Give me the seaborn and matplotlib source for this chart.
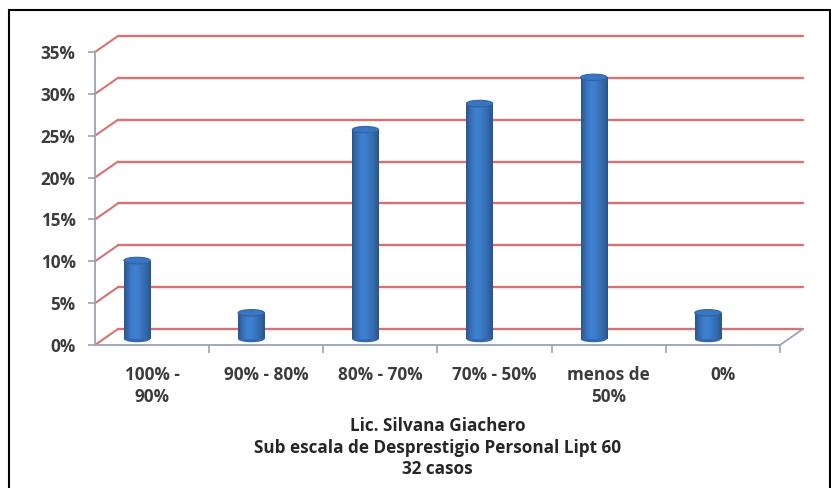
import numpy as np
import matplotlib
matplotlib.use("Agg")
import matplotlib.pyplot as plt
from matplotlib.transforms import ScaledTranslation, IdentityTransform
from matplotlib.patches import Ellipse, Rectangle
from matplotlib.lines import Line2D
import seaborn as sns
import pandas as pd

# Data: share of the 32 cases in each range
categories = ["100% -\n90%", "90% - 80%", "80% - 70%", "70% - 50%", "menos de\n50%", "0%"]
porcentajes = [9.375, 3.125, 25.0, 28.125, 31.25, 3.125]
y_ticks = [0, 5, 10, 15, 20, 25, 30, 35]
y_tick_labels = [f"{t}%" for t in y_ticks]
title_lines = ["Lic. Silvana Giachero",
               "Sub escala de Desprestigio Personal Lipt 60",
               "32 casos"]

sns.set_theme(style="white")
plt.rcParams["font.family"] = ["Open Sans", "DejaVu Sans"]

DPI = 100
W, H = 831, 488
fig = plt.figure(figsize=(W / DPI, H / DPI), dpi=DPI)
fig.patch.set_facecolor("white")

# front plane of the pseudo-3D plot (pixels)
x_left, x_right, y_zero, y_top = 95, 780, 345, 52
ax = fig.add_axes([x_left / W, (H - y_zero) / H,
                   (x_right - x_left) / W, (y_zero - y_top) / H])
ax.set_facecolor("none")

grid_red = "#d77272"
axis_gray = "#9aa4b6"
text_gray = "#3c3c3c"
bar_blue = "#3a77c2"
label_size = 12.3

df = pd.DataFrame({"rango": categories, "pct": porcentajes})
sns.barplot(data=df, x="rango", y="pct", color=bar_blue, width=0.23,
            ax=ax, zorder=3, saturation=1)

ax.set_xlim(-0.5, len(categories) - 0.5)
ax.set_ylim(0, 35)

# depth offsets (back wall / bar row), in pixels
back_dx, back_dy = 23, 16
bar_dx, bar_dy = -15, 6
back_off = ScaledTranslation(back_dx / DPI, back_dy / DPI, fig.dpi_scale_trans)
bar_off = ScaledTranslation(bar_dx / DPI, bar_dy / DPI, fig.dpi_scale_trans)

# back wall gridlines and left wall diagonals
trans_back = ax.get_yaxis_transform() + back_off
for t in y_ticks:
    ax.add_line(Line2D([0, 1], [t, t], transform=trans_back, color=grid_red,
                       lw=1.7, zorder=1, clip_on=False))
    px, py = ax.transData.transform((-0.5, t))
    ax.add_line(Line2D([px, px + back_dx], [py, py + back_dy],
                       transform=IdentityTransform(), color=grid_red,
                       lw=1.5, zorder=1, clip_on=False))

# right edge of the floor
px, py = ax.transData.transform((len(categories) - 0.5, 0))
ax.add_line(Line2D([px, px + back_dx], [py, py + back_dy],
                   transform=IdentityTransform(), color=axis_gray,
                   lw=1.3, zorder=1, clip_on=False))

# cylinder shading for each bar
px_per_unit = ax.bbox.height / 35.0
cap_h = 6.5 / px_per_unit
shade = np.array([0.72, 0.86, 0.98, 1.06, 1.08, 1.04, 0.97, 0.9, 0.82, 0.72])
grad = np.linspace(0, 1, 64)
prof = np.interp(grad, np.linspace(0, 1, len(shade)), shade)
base_rgb = np.array(matplotlib.colors.to_rgb(bar_blue))
img = np.clip(base_rgb[None, None, :] * prof[None, :, None], 0, 1)

bar_trans = ax.transData + bar_off
for p in list(ax.patches):
    p.set_transform(bar_trans)
    p.set_edgecolor("none")
    x0 = p.get_x()
    w = p.get_width()
    h = p.get_height()
    im = ax.imshow(img, extent=(x0, x0 + w, 0, h), transform=bar_trans,
                   aspect="auto", zorder=4, interpolation="bilinear")
    im.set_clip_path(p)
    # rounded base
    ax.add_patch(Ellipse((x0 + w / 2, 0), w, cap_h, transform=bar_trans,
                         facecolor="#3069b0", edgecolor="none", zorder=2.9))
    # top cap
    ax.add_patch(Ellipse((x0 + w / 2, h), w, cap_h, transform=bar_trans,
                         facecolor="#3a76bf", edgecolor="#2d64a8", lw=0.8, zorder=5))

ax.set_xlim(-0.5, len(categories) - 0.5)
ax.set_ylim(0, 35)

# spines and ticks
for s in ["top", "right"]:
    ax.spines[s].set_visible(False)
for s in ["left", "bottom"]:
    ax.spines[s].set_color(axis_gray)
    ax.spines[s].set_linewidth(1.3)
    ax.spines[s].set_zorder(2)

ax.set_yticks(y_ticks)
ax.set_yticklabels(y_tick_labels)
ax.set_xticks(range(len(categories)))
ax.set_xticklabels(categories, linespacing=1.3)
ax.set_xticks(np.arange(0.5, len(categories), 1.0), minor=True)
ax.tick_params(axis="y", left=True, length=5, width=1.2, color=axis_gray,
               pad=9, labelsize=label_size, labelcolor=text_gray)
ax.tick_params(axis="x", which="major", bottom=True, length=0, pad=15,
               labelsize=label_size, labelcolor=text_gray)
ax.tick_params(axis="x", which="minor", bottom=True, length=6, width=1.2,
               color=axis_gray)
for lab in ax.get_xticklabels() + ax.get_yticklabels():
    lab.set_fontweight("bold")
for lab in ax.get_xticklabels():
    lab.set_verticalalignment("top")
ax.set_xlabel("")
ax.set_ylabel("")
ax.grid(False)

# caption below the plot
cx = (x_left + x_right) / 2 / W
for line, yc in zip(title_lines, [426, 448, 469]):
    fig.text(cx, (H - yc) / H, line, ha="center", va="center",
             fontsize=label_size, fontweight="bold", color="#262626")

# outer frame
fig.add_artist(Rectangle((8.5 / W, -0.05), (830 - 8.5) / W, (H - 10) / H + 0.05,
                         transform=fig.transFigure, fill=False,
                         edgecolor="black", lw=1.5))

fig.savefig("out.png", dpi=DPI)
